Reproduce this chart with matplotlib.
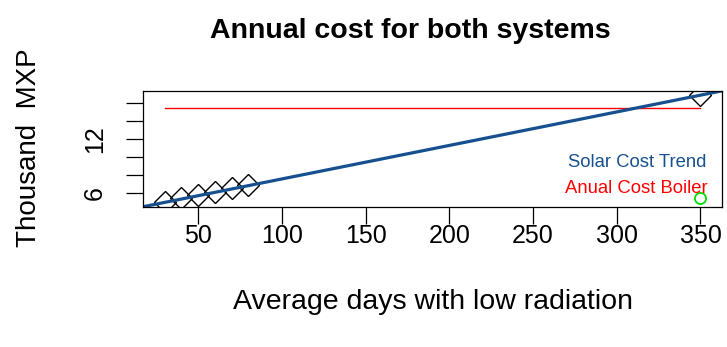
import matplotlib.pyplot as plt
import numpy as np

plt.rcParams['font.family'] = ['Liberation Sans', 'DejaVu Sans']

# Solar cost points (days with low radiation vs thousand MXP)
solar_days = [30, 40, 50, 60, 70, 80, 350]
solar_cost = [4.92, 5.41, 5.71, 6.04, 6.53, 6.83, 16.84]

# Boiler annual cost (flat)
boiler_days = [30, 350]
boiler_cost = [15.37, 15.37]

# Extra point at the right edge
extra_day = [350]
extra_cost = [5.37]

# Trend line
trend_intercept = 3.79
trend_slope = 0.0373

yticks = [6, 8, 10, 12, 14, 16]
ytick_labels = ['6', '', '', '12', '', '']
xticks = [50, 100, 150, 200, 250, 300, 350]

fig = plt.figure(figsize=(7.27, 3.47), dpi=100)
ax = fig.add_axes([0.197, 0.4043, 0.796, 0.3335])

ax.plot(solar_days, solar_cost, linestyle='none', marker='D', markersize=11,
        markerfacecolor='none', markeredgecolor='black', markeredgewidth=1)
ax.plot(boiler_days, boiler_cost, color='red', linewidth=1)
ax.plot(extra_day, extra_cost, linestyle='none', marker='o', markersize=8,
        markerfacecolor='none', markeredgecolor='#00dd00', markeredgewidth=1.3)
ax.axline((0, trend_intercept), slope=trend_slope, color='#17508f', linewidth=2.3)

ax.set_xlim(17.2, 362.8)
ax.set_ylim(4.43, 17.31)
ax.set_xticks(xticks)
ax.set_yticks(yticks)
ax.set_yticklabels(ytick_labels, rotation=90, va='center')
ax.tick_params(axis='both', labelsize=18, length=12, width=0.9, direction='out')
ax.tick_params(axis='x', pad=0.5)
ax.tick_params(axis='y', pad=14)
for s in ax.spines.values():
    s.set_linewidth(0.9)

fig.text(0.971, 0.531, 'Solar Cost Trend', color='#17508f',
         fontsize=13.3, ha='right', va='center')
fig.text(0.974, 0.456, 'Anual Cost Boiler', color='red',
         fontsize=13.3, ha='right', va='center')

fig.text(0.565, 0.911, 'Annual cost for both systems', fontsize=20.5,
         fontweight='bold', ha='center', va='center')
fig.text(0.596, 0.130, 'Average days with low radiation', fontsize=20.5,
         ha='center', va='center')
fig.text(0.040, 0.575, 'Thousand  MXP', fontsize=20, rotation=90,
         ha='center', va='center')

fig.savefig('out.png', dpi=100)
